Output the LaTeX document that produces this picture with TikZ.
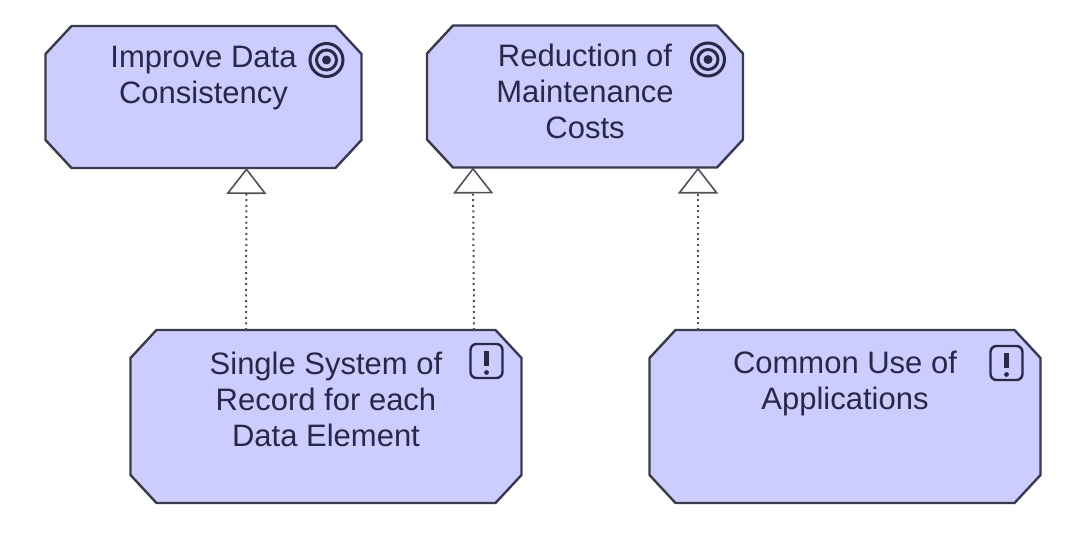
\documentclass[tikz,border=0pt]{standalone}
\usepackage{fontspec}
\setmainfont{Liberation Sans}
\usetikzlibrary{arrows.meta}
\definecolor{mfill}{RGB}{204,204,255}
\definecolor{mline}{RGB}{58,58,78}
\definecolor{mtext}{RGB}{40,40,72}
\definecolor{cline}{RGB}{80,80,90}
\newcommand\chambox[1]{%
  \draw[boxline] ([xshift=26pt]#1.north west) -- ([xshift=-26pt]#1.north east)
    -- ([yshift=-28pt]#1.north east) -- ([yshift=28pt]#1.south east)
    -- ([xshift=-26pt]#1.south east) -- ([xshift=26pt]#1.south west)
    -- ([yshift=28pt]#1.south west) -- ([yshift=-28pt]#1.north west) -- cycle;}
\begin{document}
\begin{tikzpicture}[x=1pt,y=-1pt,
  motbox/.style={rectangle, draw=none, inner sep=0pt, outer sep=0pt},
  boxline/.style={draw=mline, fill=mfill, line width=2.4pt, line join=round},
  topbox/.style={motbox, minimum width=316pt, minimum height=142pt},
  lowbox/.style={motbox, minimum width=391pt, minimum height=173pt},
  lbl/.style={anchor=base, align=center, inner sep=0pt, text=mtext, font=\fontsize{31}{36}\selectfont},
  real/.style={draw=cline, line width=2pt, dash pattern=on 2pt off 3.6pt, -{Triangle[open, width=40pt, length=26pt, line width=1.6pt, fill=white]}},
  goalring/.style={draw=mtext, line width=3pt},
  princ/.style={draw=mtext, line width=2.4pt, rounded corners=6pt}
]
\useasboundingbox (0,0) rectangle (1087,543);
\fill[white] (0,0) rectangle (1087,543);

% boxes
\node[topbox] (b1) at (203.5,97) {};
\node[topbox] (b2) at (585,96.5) {};
\node[lowbox] (b3) at (326,416.5) {};
\node[lowbox] (b4) at (845,416.5) {};
\chambox{b1}
\chambox{b2}
\chambox{b3}
\chambox{b4}

% labels (base = baseline of last line)
\node[lbl] (t1) at ([yshift=-77pt]b1.north) {Improve Data\\Consistency};
\node[lbl] (t2) at ([yshift=-113pt]b2.north) {Reduction of\\Maintenance\\Costs};
\node[lbl] (t3) at ([yshift=-116pt]b3.north) {Single System of\\Record for each\\Data Element};
\node[lbl] (t4) at ([yshift=-79pt]b4.north) {Common Use of\\Applications};

% goal icons
\coordinate (g1) at ([xshift=-35pt,yshift=-34pt]b1.north east);
\coordinate (g2) at ([xshift=-35pt,yshift=-34pt]b2.north east);
\foreach \g in {g1,g2}{
  \draw[goalring] (\g) circle[radius=16.5pt];
  \draw[goalring] (\g) circle[radius=10pt];
  \fill[mtext] (\g) circle[radius=4.5pt];
}

% principle icons
\coordinate (p3) at ([xshift=-35pt,yshift=-31pt]b3.north east);
\coordinate (p4) at ([xshift=-34pt,yshift=-33pt]b4.north east);
\foreach \p in {p3,p4}{
  \draw[princ] ([xshift=-16pt,yshift=17pt]\p) rectangle ([xshift=16pt,yshift=-17pt]\p);
  \draw[mtext, line width=4.2pt] ([yshift=10pt]\p) -- ([yshift=-5pt]\p);
  \fill[mtext] ([yshift=-11.5pt]\p) circle[radius=2.4pt];
}

% realization connectors
\draw[real] ([xshift=-80pt]b3.north) -- ([xshift=43pt]b1.south);
\draw[real] ([xshift=148pt]b3.north) -- ([xshift=-112pt]b2.south);
\draw[real] ([xshift=-147pt]b4.north) -- ([xshift=113pt]b2.south);
\end{tikzpicture}
\end{document}
